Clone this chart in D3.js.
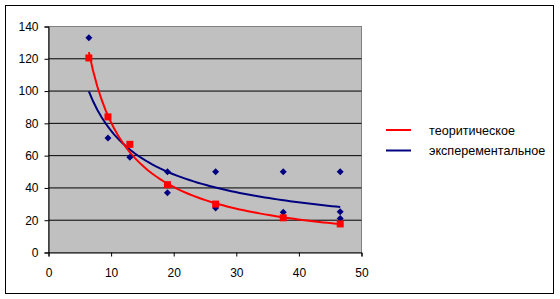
<!DOCTYPE html>
<html>
<head>
<meta charset="utf-8">
<script src="https://cdn.jsdelivr.net/npm/d3@7"></script>
<style>
  body { margin: 0; background: #fff; }
  svg text { font-family: Arial, "Liberation Sans", sans-serif; font-size: 12px; fill: #000; }
  .legend text { font-size: 12.6px; }
</style>
</head>
<body>
<svg id="chart" width="560" height="299"></svg>
<script>
// theoretical values (red squares)
var theoX = [6.45, 9.5, 13, 19, 26.7, 37.5, 46.6],
    theoY = [120.5, 84, 67, 42, 30, 21.5, 17.7];

// experimental values (blue diamonds)
var expX = [6.45, 9.5, 13, 19, 19, 26.7, 26.7, 37.5, 37.5, 46.6, 46.6, 46.6],
    expY = [133, 71, 59, 50, 37, 50, 27.5, 50, 25, 50, 25.3, 21];

var xTicks = [0, 10, 20, 30, 40, 50],
    yTicks = [0, 20, 40, 60, 80, 100, 120, 140];

var seriesNames = ["теоритическое", "эксперементальное"],
    seriesColors = ["#ff0000", "#000080"];

var svg = d3.select("#chart");

// outer chart border
svg.append("rect")
    .attr("x", 5.5).attr("y", 5.5)
    .attr("width", 548).attr("height", 288)
    .attr("fill", "#fff").attr("stroke", "#000");

var x = d3.scaleLinear().domain([0, 50]).range([48.5, 361.5]),
    y = d3.scaleLinear().domain([0, 140]).range([252.5, 26.5]);

// plot area
svg.append("rect")
    .attr("x", x(0)).attr("y", y(140))
    .attr("width", x(50) - x(0)).attr("height", y(0) - y(140))
    .attr("fill", "#c0c0c0").attr("stroke", "#808080");

// gridlines
svg.append("g").selectAll("line")
    .data(yTicks.filter(function(d) { return d > 0 && d < 140; }))
  .enter().append("line")
    .attr("x1", x(0)).attr("x2", x(50))
    .attr("y1", function(d) { return y(d); })
    .attr("y2", function(d) { return y(d); })
    .attr("stroke", "#000");

// axes
var xAxis = svg.append("g")
    .attr("transform", "translate(0," + y(0) + ")")
    .call(d3.axisBottom(x).tickValues(xTicks).tickSize(4).tickPadding(8));
var yAxis = svg.append("g")
    .attr("transform", "translate(" + x(0) + ",0)")
    .call(d3.axisLeft(y).tickValues(yTicks).tickSize(4).tickPadding(6));
[xAxis, yAxis].forEach(function(a) {
  a.attr("font-family", null).attr("font-size", null);
  a.selectAll("path, line").attr("stroke", "#000");
});
xAxis.selectAll("text").attr("dy", "1em");

// power trendline (least squares in log-log space, like the spreadsheet)
function powerFit(xs, ys) {
  var lx = xs.map(Math.log), ly = ys.map(Math.log),
      mx = d3.mean(lx), my = d3.mean(ly),
      sxy = d3.sum(lx, function(v, i) { return (v - mx) * (ly[i] - my); }),
      sxx = d3.sum(lx, function(v) { return (v - mx) * (v - mx); }),
      b = sxy / sxx, a = Math.exp(my - b * mx);
  var ext = d3.extent(xs);
  return d3.range(0, 61).map(function(i) {
    var t = ext[0] + (ext[1] - ext[0]) * i / 60;
    return [t, a * Math.pow(t, b)];
  });
}

var line = d3.line()
    .x(function(d) { return x(d[0]); })
    .y(function(d) { return y(d[1]); });

svg.append("path")
    .datum(powerFit(expX, expY))
    .attr("d", line)
    .attr("fill", "none").attr("stroke", seriesColors[1]).attr("stroke-width", 2);

svg.append("path")
    .datum(powerFit(theoX, theoY))
    .attr("d", line)
    .attr("fill", "none").attr("stroke", seriesColors[0]).attr("stroke-width", 2);

// experimental markers
svg.append("g").selectAll("path")
    .data(expX)
  .enter().append("path")
    .attr("d", "M0,-3.5L3.5,0L0,3.5L-3.5,0Z")
    .attr("transform", function(d, i) { return "translate(" + x(d) + "," + y(expY[i]) + ")"; })
    .attr("fill", seriesColors[1]);

// theoretical markers
svg.append("g").selectAll("rect")
    .data(theoX)
  .enter().append("rect")
    .attr("x", function(d) { return x(d) - 3.5; })
    .attr("y", function(d, i) { return y(theoY[i]) - 3.5; })
    .attr("width", 7).attr("height", 7)
    .attr("fill", seriesColors[0]);

// legend
var legend = svg.append("g").attr("class", "legend").selectAll("g")
    .data(seriesNames)
  .enter().append("g")
    .attr("transform", function(d, i) { return "translate(386," + (130 + i * 20.5) + ")"; });
legend.append("line")
    .attr("x1", 0).attr("x2", 25)
    .attr("stroke", function(d, i) { return seriesColors[i]; })
    .attr("stroke-width", 2);
legend.append("text")
    .attr("x", 43).attr("y", 4.5)
    .text(function(d) { return d; });
</script>
</body>
</html>
